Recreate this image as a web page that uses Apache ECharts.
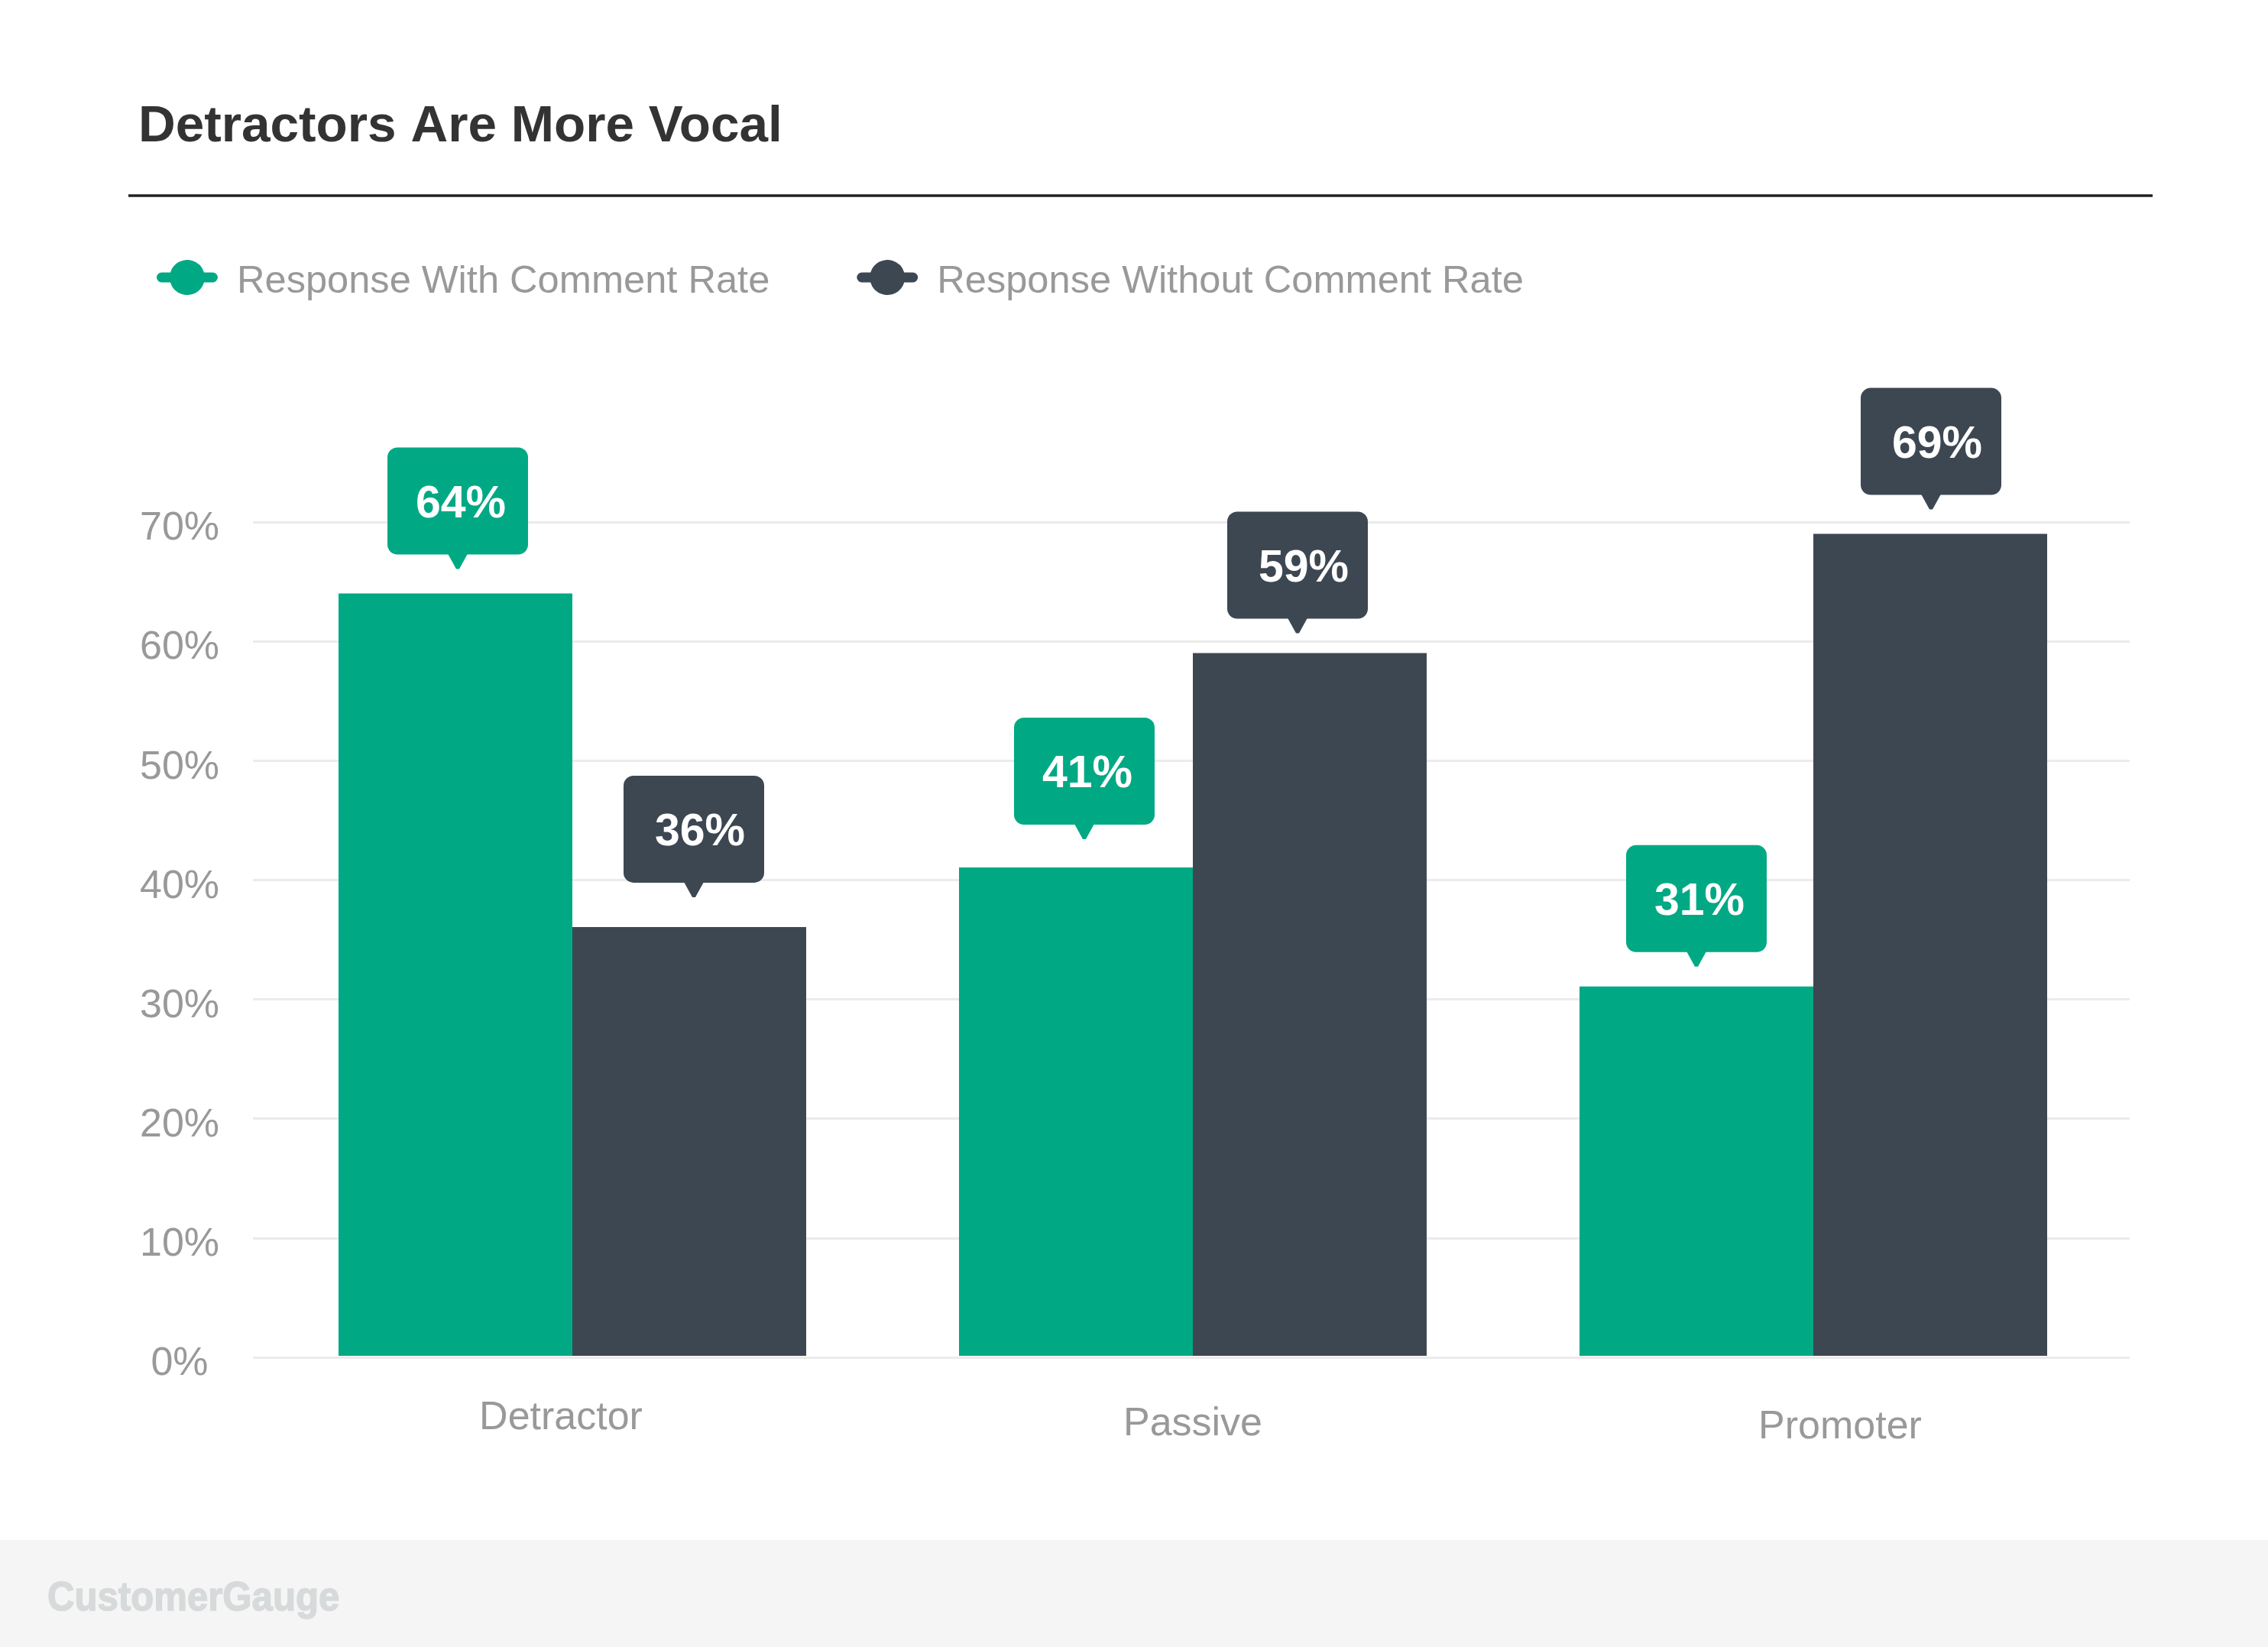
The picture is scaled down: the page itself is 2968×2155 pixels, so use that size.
<!DOCTYPE html>
<html>
<head>
<meta charset="utf-8">
<title>Detractors Are More Vocal</title>
<script src="https://cdn.jsdelivr.net/npm/echarts@6/dist/echarts.min.js"></script>
<style>
html, body { margin: 0; padding: 0; background: #fff; }
#myfirstchart { width: 2968px; height: 2155px; }
</style>
</head>
<body>
<div id="myfirstchart"></div>
<script>
var titleText = 'Detractors Are More Vocal';
var footerText = 'CustomerGauge';
var categories = ['Detractor', 'Passive', 'Promoter'];
var seriesNames = ['Response With Comment Rate', 'Response Without Comment Rate'];
var withComment = [64, 41, 31];
var withoutComment = [36, 59, 69];
var yTicks = [0, 10, 20, 30, 40, 50, 60, 70];

var GREEN = '#00a984';
var SLATE = '#3d4752';
var GREY = '#999999';
var FONT = '"Liberation Sans", Arial, sans-serif';
var BAR_WIDTH = 306;

// the callouts and category names are not quite centred in the original
var calloutShift = [
    [[3, -2], [11, -7], [0, 4]],
    [[6, -9], [-16, 4], [1, -2]]
];
var labelPadding = [
    [4, 30, 0, 0],
    [12, 0, 0, 0],
    [16, 0, 0, 70]
];

// legend marker: round dot on a short rounded bar
var legendIcon = 'path://M6.5,16.5 H17.93 A23,23 0 0 1 62.07,16.5 H73.5 A6.5,6.5 0 0 1 73.5,29.5 H62.07 A23,23 0 0 1 17.93,29.5 H6.5 A6.5,6.5 0 0 1 6.5,16.5 Z';

function callout(values, color, side, shifts) {
    return function (params, api) {
        var i = params.dataIndex;
        var pt = api.coord([i, values[i]]);
        var cx = pt[0] + side * BAR_WIDTH / 2 + shifts[i][0];
        var tip = pt[1] - 30 + shifts[i][1];
        return {
            type: 'group',
            children: [
                {
                    type: 'rect',
                    shape: { x: cx - 92, y: tip - 159, width: 184, height: 140, r: 13 },
                    style: { fill: color }
                },
                {
                    type: 'polygon',
                    shape: { points: [[cx - 13, tip - 20], [cx + 13, tip - 20], [cx + 2, tip], [cx - 2, tip]] },
                    style: { fill: color }
                },
                {
                    type: 'text',
                    x: cx + 6 + side * 2,
                    y: tip - 84,
                    style: {
                        text: values[i] + '%',
                        fill: '#fff',
                        font: 'bold 59px ' + FONT,
                        align: 'center',
                        verticalAlign: 'middle'
                    }
                }
            ]
        };
    };
}

function pairs(values) {
    return values.map(function (v, i) { return [i, v]; });
}

var myChart = echarts.init(document.getElementById('myfirstchart'));

var option = {
    backgroundColor: '#fff',
    animation: false,
    title: {
        text: titleText,
        left: 176,
        top: 127,
        textStyle: { fontFamily: FONT, fontWeight: 'bold', fontSize: 67.5, color: '#333' }
    },
    legend: {
        left: 200,
        top: 335,
        itemWidth: 80,
        itemHeight: 46,
        itemGap: 114,
        icon: legendIcon,
        data: seriesNames,
        formatter: function (name) {
            return '{n|' + name + '}';
        },
        textStyle: {
            rich: {
                n: { fontFamily: FONT, fontSize: 50.6, color: GREY, padding: [12, 0, 0, 20] }
            }
        }
    },
    // grid 0 holds the y axis and gridlines, grid 1 the bars (bars sit slightly inset)
    grid: [
        { left: 331, right: 181, top: 683, bottom: 379 },
        { left: 343, right: 189, top: 683, bottom: 381 }
    ],
    xAxis: [
        { type: 'category', gridIndex: 0, data: categories, show: false },
        {
            type: 'category',
            gridIndex: 1,
            data: categories.map(function (c, i) {
                return { value: c, textStyle: { padding: labelPadding[i] } };
            }),
            axisLine: { show: false },
            axisTick: { show: false },
            axisLabel: { margin: 52, fontFamily: FONT, fontSize: 52, color: GREY, verticalAlign: 'top' }
        }
    ],
    yAxis: [
        {
            type: 'value',
            gridIndex: 0,
            min: yTicks[0],
            max: yTicks[yTicks.length - 1],
            interval: 10,
            axisLine: { show: false },
            axisTick: { show: false },
            splitLine: { lineStyle: { color: '#ebebeb', width: 3 } },
            axisLabel: {
                margin: 96,
                align: 'center',
                formatter: function (value) {
                    return '{v|' + value + '%}';
                },
                rich: {
                    v: { fontFamily: FONT, fontSize: 52, color: GREY, padding: [18, 0, 0, 0] }
                }
            }
        },
        {
            type: 'value',
            gridIndex: 1,
            min: yTicks[0],
            max: yTicks[yTicks.length - 1],
            interval: 10,
            show: false
        }
    ],
    series: [
        {
            name: seriesNames[0],
            type: 'bar',
            xAxisIndex: 1,
            yAxisIndex: 1,
            barWidth: BAR_WIDTH,
            barGap: 0,
            itemStyle: { color: GREEN },
            data: withComment
        },
        {
            name: seriesNames[1],
            type: 'bar',
            xAxisIndex: 1,
            yAxisIndex: 1,
            barWidth: BAR_WIDTH,
            barGap: 0,
            itemStyle: { color: SLATE },
            data: withoutComment
        },
        {
            type: 'custom',
            xAxisIndex: 1,
            yAxisIndex: 1,
            z: 5,
            renderItem: callout(withComment, GREEN, -1, calloutShift[0]),
            data: pairs(withComment)
        },
        {
            type: 'custom',
            xAxisIndex: 1,
            yAxisIndex: 1,
            z: 5,
            renderItem: callout(withoutComment, SLATE, 1, calloutShift[1]),
            data: pairs(withoutComment)
        }
    ],
    graphic: [
        {
            type: 'line',
            shape: { x1: 168, y1: 256, x2: 2817, y2: 256 },
            style: { stroke: '#222', lineWidth: 3.5 }
        },
        {
            type: 'rect',
            shape: { x: 0, y: 2015, width: 2968, height: 140 },
            style: { fill: '#f5f5f6' }
        },
        {
            type: 'text',
            x: 62,
            y: 2092,
            scaleX: 0.91,
            style: {
                text: footerText,
                fill: '#d7dada',
                stroke: '#d7dada',
                lineWidth: 1.5,
                font: 'bold 54px ' + FONT,
                verticalAlign: 'middle'
            }
        }
    ]
};
myChart.setOption(option);
</script>
</body>
</html>
